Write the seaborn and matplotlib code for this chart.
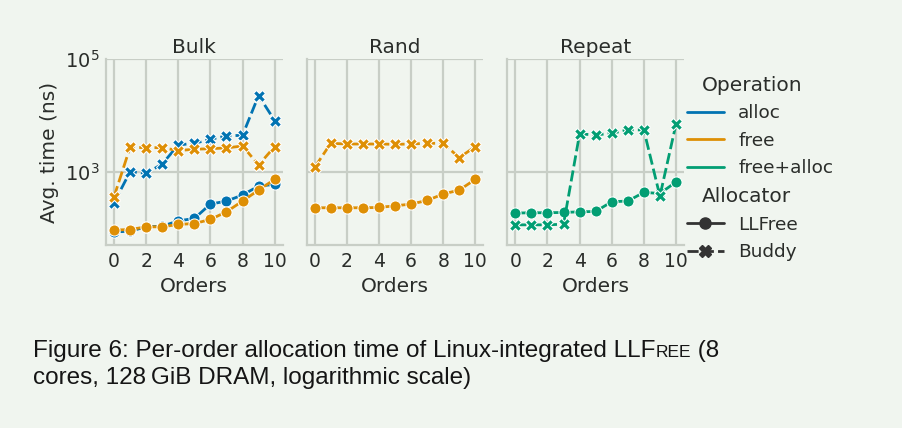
import pandas as pd
import matplotlib
matplotlib.use("Agg")
import matplotlib.pyplot as plt
from matplotlib.offsetbox import HPacker, DrawingArea, TextArea
import seaborn as sns

# values (ns, log scale)
orders = list(range(11))
benchmarks = ["Bulk", "Rand", "Repeat"]
operations = ["alloc", "free", "free+alloc"]
allocators = ["LLFree", "Buddy"]

bulk_alloc_llfree = [85, 88, 105, 108, 134, 148, 266, 301, 385, 556, 595]
bulk_free_llfree = [92, 94, 105, 105, 116, 120, 142, 194, 301, 472, 731]
bulk_alloc_buddy = [281, 1000, 934, 1369, 2980, 3190, 3760, 4310, 4430, 22500, 8070]
bulk_free_buddy = [359, 2710, 2670, 2670, 2370, 2500, 2560, 2640, 2860, 1315, 2790]
rand_free_llfree = [229, 229, 229, 229, 232, 248, 266, 309, 401, 472, 731]
rand_free_buddy = [1194, 3190, 3100, 3100, 3100, 3060, 3100, 3190, 3190, 1775, 2790]
repeat_llfree = [184, 187, 187, 189, 194, 197, 293, 301, 429, 411, 655]
repeat_buddy = [114, 114, 114, 117, 4680, 4490, 4810, 5510, 5510, 369, 6950]

series = [
    ("Bulk", "alloc", "LLFree", bulk_alloc_llfree),
    ("Bulk", "free", "LLFree", bulk_free_llfree),
    ("Bulk", "alloc", "Buddy", bulk_alloc_buddy),
    ("Bulk", "free", "Buddy", bulk_free_buddy),
    ("Rand", "free", "LLFree", rand_free_llfree),
    ("Rand", "free", "Buddy", rand_free_buddy),
    ("Repeat", "free+alloc", "LLFree", repeat_llfree),
    ("Repeat", "free+alloc", "Buddy", repeat_buddy),
]
rows = []
for bench, op, alloc, vals in series:
    for o, v in zip(orders, vals):
        rows.append({"Benchmark": bench, "Operation": op, "Allocator": alloc,
                     "Orders": o, "Avg. time (ns)": v})
df = pd.DataFrame(rows)

bg = "#f0f5ef"
grid = "#c8cec6"
txt = "#2a2d2a"
sns.set_theme(style="whitegrid", rc={
    "figure.facecolor": bg, "axes.facecolor": bg, "savefig.facecolor": bg,
    "grid.color": grid, "axes.edgecolor": grid, "grid.linewidth": 1.6,
    "axes.linewidth": 1.6, "text.color": txt, "axes.labelcolor": txt,
    "xtick.color": txt, "ytick.color": txt,
    "font.size": 14, "axes.labelsize": 14.5, "axes.titlesize": 14.3,
    "xtick.labelsize": 13.5, "ytick.labelsize": 14, "legend.fontsize": 13.3,
    "legend.title_fontsize": 13.3, "lines.linewidth": 2.0, "lines.markersize": 8,
})

g = sns.relplot(
    data=df, x="Orders", y="Avg. time (ns)", col="Benchmark", col_order=benchmarks,
    hue="Operation", hue_order=operations, style="Allocator", style_order=allocators,
    kind="line", markers=True, palette="colorblind", height=2, aspect=1,
)
fig = g.figure
fig.set_size_inches(9.02, 4.28)
fig.subplots_adjust(left=106 / 902, right=684 / 902, top=1 - 59 / 428,
                    bottom=1 - 245 / 428, wspace=24 / 177)
g.set_titles("{col_name}", pad=4)
g.set_axis_labels("Orders", "Avg. time (ns)")
for ax in g.axes.flat:
    ax.set_yscale("log")
    ax.set_ylim(50, 1e5)
    ax.set_yticks([1e3, 1e5])
    ax.minorticks_off()
    ax.set_xticks([0, 2, 4, 6, 8, 10])
    ax.tick_params(length=0, pad=5)

sns.move_legend(g, "upper left", bbox_to_anchor=(670 / 902, 1 - 59 / 428),
                title=None, frameon=False, handlelength=2.0, labelspacing=0.52)

# pull the subtitle rows to the left, like seaborn does for its own legend
for hp in g.legend.findobj(HPacker):
    kids = hp.get_children()
    if len(kids) == 2 and isinstance(kids[0], DrawingArea) and isinstance(kids[1], TextArea):
        if kids[1].get_text() in ("Operation", "Allocator"):
            kids[0].set_width(0)
            for a in kids[0].get_children():
                a.set_visible(False)
            kids[1]._text.set_fontsize(14.5)

# caption with small-caps name
ren = fig.canvas.get_renderer()
cap_font = ["Liberation Sans", "DejaVu Sans"]
def write_line(pieces, x0, y0):
    x = x0
    for s, size in pieces:
        t = fig.text(x, y0, s, fontsize=size, family=cap_font, color="#151515",
                     va="baseline", ha="left")
        bb = t.get_window_extent(renderer=ren)
        x = bb.x1 / fig.dpi / 9.02

write_line([("Figure 6: Per-order allocation time of Linux-integrated LLF", 17.5),
            ("REE", 12.5), (" (8", 17.5)], 33 / 902, 1 - 357 / 428)
write_line([("cores, 128\u2009GiB DRAM, logarithmic scale)", 17.5)],
           33 / 902, 1 - 384 / 428)

fig.savefig("out.png", dpi=100)
